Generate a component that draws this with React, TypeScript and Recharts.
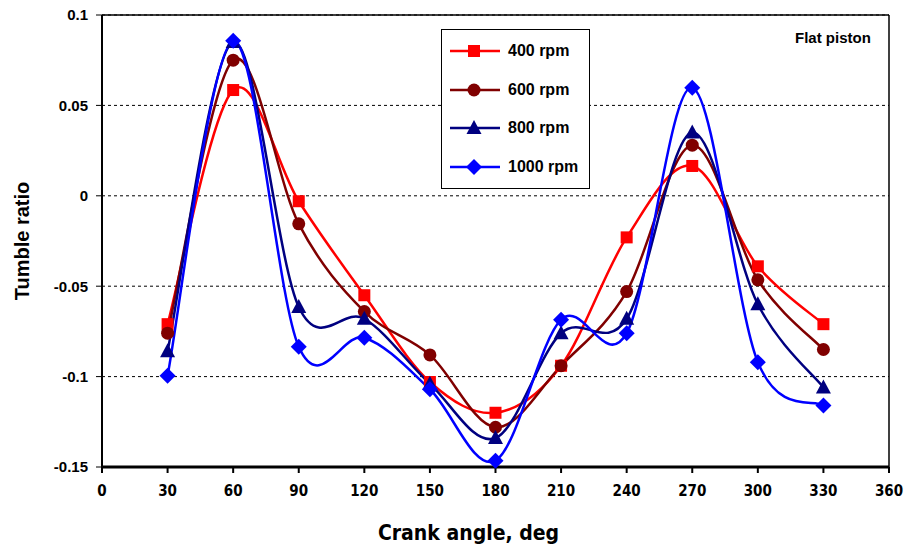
import { LineChart, Line, XAxis, YAxis, CartesianGrid, ReferenceLine } from 'recharts';

const angles = [30, 60, 90, 120, 150, 180, 210, 240, 270, 300, 330];
const rpm400 = [-0.071, 0.0585, -0.003, -0.055, -0.103, -0.12, -0.094, -0.023, 0.0165, -0.039, -0.071];
const rpm600 = [-0.076, 0.075, -0.0155, -0.064, -0.088, -0.128, -0.094, -0.053, 0.028, -0.0465, -0.085];
const rpm800 = [-0.086, 0.085, -0.0615, -0.068, -0.104, -0.134, -0.076, -0.068, 0.035, -0.06, -0.106];
const rpm1000 = [-0.0995, 0.0857, -0.0835, -0.0785, -0.107, -0.1465, -0.0685, -0.076, 0.0598, -0.092, -0.116];
const xTicks = [0, 30, 60, 90, 120, 150, 180, 210, 240, 270, 300, 330, 360];
const yTicks = [-0.15, -0.1, -0.05, 0, 0.05, 0.1];

const data = angles.map((a, i) => ({
  angle: a,
  r400: rpm400[i],
  r600: rpm600[i],
  r800: rpm800[i],
  r1000: rpm1000[i],
}));

const series = [
  { key: 'r400', name: '400 rpm', color: '#FF0000', shape: 'square' },
  { key: 'r600', name: '600 rpm', color: '#800000', shape: 'circle' },
  { key: 'r800', name: '800 rpm', color: '#000080', shape: 'triangle' },
  { key: 'r1000', name: '1000 rpm', color: '#0000FF', shape: 'diamond' },
];

// Excel-like smoothed line (Catmull-Rom as bezier)
const excelCurve = (context: any) => {
  let pts: number[][] = [];
  return {
    areaStart() {},
    areaEnd() {},
    lineStart() {
      pts = [];
    },
    lineEnd() {
      const n = pts.length;
      if (!n) return;
      context.moveTo(pts[0][0], pts[0][1]);
      for (let i = 0; i < n - 1; i++) {
        const p0 = pts[Math.max(i - 1, 0)];
        const p1 = pts[i];
        const p2 = pts[i + 1];
        const p3 = pts[Math.min(i + 2, n - 1)];
        context.bezierCurveTo(
          p1[0] + (p2[0] - p0[0]) / 6,
          p1[1] + (p2[1] - p0[1]) / 6,
          p2[0] - (p3[0] - p1[0]) / 6,
          p2[1] - (p3[1] - p1[1]) / 6,
          p2[0],
          p2[1]
        );
      }
    },
    point(x: number, y: number) {
      pts.push([+x, +y]);
    },
  };
};

const Marker = ({ shape, color, cx, cy }: { shape: string; color: string; cx: number; cy: number }) => {
  if (shape === 'square') return <rect x={cx - 6} y={cy - 6} width={12} height={12} fill={color} />;
  if (shape === 'circle') return <circle cx={cx} cy={cy} r={6.5} fill={color} />;
  if (shape === 'triangle')
    return <polygon points={`${cx},${cy - 8} ${cx + 7.5},${cy + 6} ${cx - 7.5},${cy + 6}`} fill={color} />;
  return <polygon points={`${cx},${cy - 8} ${cx + 8},${cy} ${cx},${cy + 8} ${cx - 8},${cy}`} fill={color} />;
};

const makeDot = (shape: string, color: string) => (props: any) => {
  const { cx, cy, index } = props;
  if (cx == null || cy == null) return <g key={index} />;
  return (
    <g key={index}>
      <Marker shape={shape} color={color} cx={cx} cy={cy} />
    </g>
  );
};

const LegendBox = () => (
  <div
    style={{
      position: 'absolute',
      left: 441,
      top: 29,
      width: 149,
      height: 160,
      border: '1.5px solid #000',
      background: '#fff',
      boxSizing: 'border-box',
      paddingTop: 2,
    }}
  >
    {series.map((s) => (
      <div key={s.key} style={{ display: 'flex', alignItems: 'center', height: 38.5 }}>
        <svg width={60} height={20} style={{ marginLeft: 2 }}>
          <line x1={6} y1={10} x2={56} y2={10} stroke={s.color} strokeWidth={2.5} />
          <Marker shape={s.shape} color={s.color} cx={30} cy={10} />
        </svg>
        <span
          style={{
            fontFamily: 'Liberation Sans, Arial, sans-serif',
            fontWeight: 'bold',
            fontSize: 16,
            marginLeft: 4,
            color: '#000',
          }}
        >
          {s.name}
        </span>
      </div>
    ))}
  </div>
);

const narrow = 'DejaVu Sans Condensed, Liberation Sans Narrow, Arial Narrow, Liberation Sans, Arial, sans-serif';
const tickStyle = { fontFamily: 'Liberation Sans, Arial, sans-serif', fontWeight: 'bold', fontSize: 15, fill: '#000' };

export default function App() {
  return (
    <div style={{ position: 'absolute', left: 0, top: 0, width: 911, height: 552, background: '#fff' }}>
      <LineChart width={911} height={552} data={data} margin={{ top: 15, right: 22, left: 0, bottom: 30 }}>
        <CartesianGrid vertical={false} stroke="#000" strokeDasharray="3 3" strokeWidth={1} />
        <XAxis
          dataKey="angle"
          type="number"
          domain={[0, 360]}
          ticks={xTicks}
          interval={0}
          height={55}
          tickLine={{ stroke: '#000', strokeWidth: 2 }}
          tickSize={6}
          axisLine={{ stroke: '#000', strokeWidth: 3 }}
          tick={{ ...tickStyle, fontFamily: narrow, fontSize: 15 }}
          tickMargin={12}
          label={{
            value: 'Crank angle, deg',
            position: 'insideBottom',
            offset: -18,
            dx: -27,
            style: { fontFamily: narrow, fontWeight: 'bold', fontSize: 21, fill: '#000' },
          }}
        />
        <YAxis
          type="number"
          domain={[-0.15, 0.1]}
          ticks={yTicks}
          interval={0}
          width={102}
          tickLine={{ stroke: '#000', strokeWidth: 1 }}
          tickSize={6}
          axisLine={{ stroke: '#000', strokeWidth: 2 }}
          tick={tickStyle}
          tickMargin={8}
          label={{
            value: 'Tumble ratio',
            angle: -90,
            position: 'insideLeft',
            offset: 22,
            style: { fontFamily: 'Liberation Sans, Arial, sans-serif', fontWeight: 'bold', fontSize: 20, fill: '#000', textAnchor: 'middle' },
          }}
        />
        <ReferenceLine y={0.1} stroke="#000" strokeWidth={1.5} />
        <ReferenceLine x={360} stroke="#000" strokeWidth={1.5} />
        {series.map((s) => (
          <Line
            key={s.key}
            dataKey={s.key}
            name={s.name}
            type={excelCurve as any}
            stroke={s.color}
            strokeWidth={2.5}
            dot={makeDot(s.shape, s.color)}
            activeDot={false}
            isAnimationActive={false}
          />
        ))}
      </LineChart>
      <LegendBox />
      <div
        style={{
          position: 'absolute',
          left: 795,
          top: 29,
          fontFamily: 'Liberation Sans, Arial, sans-serif',
          fontWeight: 'bold',
          fontSize: 15,
          color: '#000',
        }}
      >
        Flat piston
      </div>
    </div>
  );
}
